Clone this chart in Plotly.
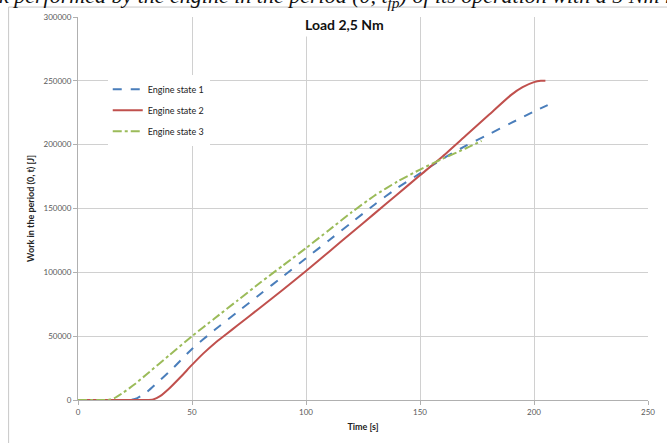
import plotly.graph_objects as go

# ---- data ----
t1 = [0, 20, 23, 26, 30, 35, 40, 45, 50, 60, 70, 80, 90, 100, 110, 120, 130, 140, 150, 160, 170, 180, 190, 200, 206]
w1 = [0, 0, 0, 1500, 6000, 14000, 22000, 31000, 40000, 55000, 69000, 83000, 97000, 111000, 125000, 139000, 153000, 166000, 177500, 189000, 199000, 208000, 217000, 226000, 231000]

t2 = [0, 10, 20, 30, 33, 36, 40, 45, 50, 55, 60, 65, 70, 80, 90, 100, 110, 120, 130, 140, 150, 160, 170, 180, 190, 195, 200, 203, 205]
w2 = [0, 0, 0, 0, 500, 3000, 9000, 18000, 27500, 36500, 44500, 51500, 58500, 72500, 86500, 101000, 116000, 131000, 146000, 161000, 176000, 191000, 207000, 223000, 239000, 245000, 249000, 250000, 250000]

t3 = [0, 10, 13, 16, 20, 25, 30, 40, 50, 60, 70, 80, 90, 100, 110, 120, 130, 140, 150, 160, 170, 177]
w3 = [0, 0, 0, 1500, 6000, 12500, 20000, 35000, 50000, 64000, 78000, 92000, 105500, 119000, 133000, 147000, 160000, 171000, 180500, 189000, 197000, 203000]

names = ["Engine state 1", "Engine state 2", "Engine state 3"]
colors = ["#4a7ebb", "#c0504d", "#9bbb59"]
dashes = ["dash", "solid", "dashdot"]

title_text = "Load 2,5 Nm"
xtitle = "Time [s]"
ytitle = "Work in the period (0, t) [J]"
caption = "k performed by the engine in the period (0, t<sub>fp</sub>) of its operation with a 5 Nm load"

FONT = "Lato"

fig = go.Figure()
for t, w, n, c, d in zip([t1, t2, t3], [w1, w2, w3], names, colors, dashes):
    fig.add_trace(go.Scatter(x=t, y=w, name=n, mode="lines",
                             line=dict(color=c, width=2, dash=d, shape="spline", smoothing=0.6),
                             legendgroup=n))

axis_common = dict(showgrid=True, gridcolor="#d0d0d0", gridwidth=1, zeroline=False,
                   showline=True, linecolor="#b0b0b0", linewidth=1,
                   ticks="outside", ticklen=4, tickcolor="#b0b0b0",
                   tickformat="d",
                   tickfont=dict(family=FONT, size=8, color="#595959"))

fig.update_xaxes(range=[0, 250], dtick=50, tick0=0,
                 title=dict(text="<b>" + xtitle + "</b>", font=dict(family=FONT, size=9, color="#222"), standoff=8),
                 **axis_common)
fig.update_yaxes(range=[0, 300000], dtick=50000, tick0=0,
                 title=dict(text="<b>" + ytitle + "</b>", font=dict(family=FONT, size=9, color="#222"), standoff=7),
                 **axis_common)

L, R, T, B = 78, 14, 17, 41
W, H = 667, 443
pw, ph = W - L - R, H - T - B

def px(xp):
    return (xp - L) / pw

def py(yp):
    return 1 - (yp - T) / ph

fig.update_layout(
    width=W, height=H,
    margin=dict(l=L, r=R, t=T, b=B, pad=0),
    paper_bgcolor="white", plot_bgcolor="white",
    font=dict(family=FONT, size=9, color="#222"),
    showlegend=True,
    legend=dict(x=px(108), y=py(75), xanchor="left", yanchor="top",
                bgcolor="white", font=dict(family=FONT, size=9, color="#222"),
                tracegroupgap=2, itemwidth=30),
    shapes=[dict(type="rect", xref="paper", yref="paper",
                 x0=px(8), x1=px(700), y0=py(470), y1=py(7),
                 line=dict(color="#c8c8c8", width=1), layer="below")],
    annotations=[
        dict(text="<b>" + title_text + "</b>", xref="paper", yref="paper",
             x=px(347), y=py(25), xanchor="center", yanchor="middle", showarrow=False,
             font=dict(family=FONT, size=14, color="#111"), bgcolor="white", borderpad=3),
        dict(text="<i>" + caption + "</i>", xref="paper", yref="paper",
             x=px(-4), y=py(-3), xanchor="left", yanchor="middle", showarrow=False,
             font=dict(family="Liberation Serif", size=22, color="#111")),
    ],
)

fig.write_html("out.html")
